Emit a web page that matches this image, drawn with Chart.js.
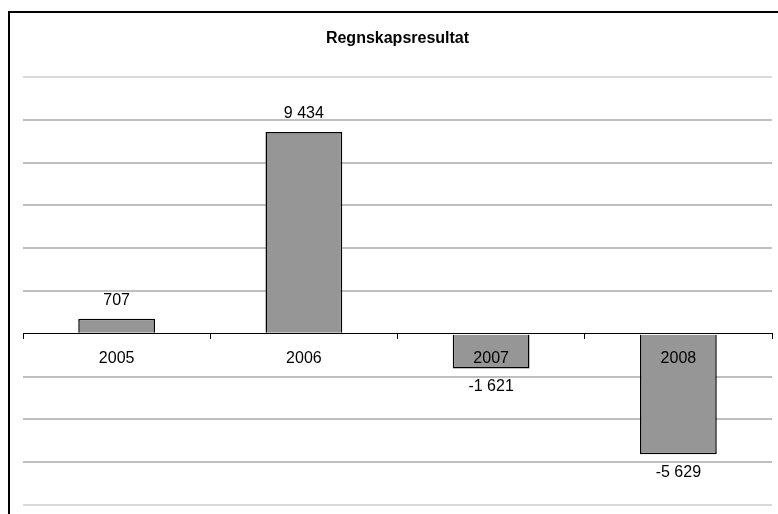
<!DOCTYPE html>
<html>
<head>
<meta charset="utf-8">
<title>Regnskapsresultat</title>
<script src="https://cdn.jsdelivr.net/npm/chart.js@4/dist/chart.umd.min.js"></script>
<style>
  html, body { margin: 0; padding: 0; background: #ffffff; }
  #wrap { position: relative; width: 778px; height: 514px; overflow: hidden; }
  #frame {
    position: absolute; left: 8px; top: 11px; width: 800px; height: 540px;
    border-left: 2px solid #000; border-top: 2px solid #000;
    pointer-events: none;
  }
  canvas { display: block; }
</style>
</head>
<body>
<div id="wrap">
  <canvas id="chart" width="778" height="514"></canvas>
  <div id="frame"></div>
</div>
<script>
// Årsresultat per regnskapsår
const years = ['2005', '2006', '2007', '2008'];
const results = [707, 9434, -1621, -5629];
const axisMin = -8000;
const axisMax = 12000;
const axisStep = 2000;

const FONT = "'Liberation Sans', Arial, sans-serif";

// "9434" -> "9 434", "-1621" -> "-1 621"
function formatNumber(v) {
  const s = Math.abs(v).toString().replace(/\B(?=(\d{3})+(?!\d))/g, ' ');
  return (v < 0 ? '-' : '') + s;
}

// Writes each bar's value just beyond the end of the bar
const valueLabels = {
  id: 'valueLabels',
  afterDatasetsDraw(chart) {
    const ctx = chart.ctx;
    const meta = chart.getDatasetMeta(0);
    const data = chart.data.datasets[0].data;
    ctx.save();
    ctx.font = '16px ' + FONT;
    ctx.fillStyle = '#000';
    ctx.textAlign = 'center';
    ctx.textBaseline = 'middle';
    meta.data.forEach((bar, i) => {
      const v = data[i];
      const y = v >= 0 ? bar.y - 18 : bar.y + 18;
      ctx.fillText(formatNumber(v), bar.x, y);
    });
    ctx.restore();
  }
};

new Chart(document.getElementById('chart'), {
  type: 'bar',
  data: {
    labels: years,
    datasets: [{
      data: results,
      backgroundColor: '#969696',
      borderColor: '#000000',
      borderWidth: 1.5,
      barPercentage: 0.41,
      categoryPercentage: 1
    }]
  },
  options: {
    responsive: false,
    animation: false,
    events: [],
    layout: { padding: { top: 0, left: 23, right: 6, bottom: 9 } },
    plugins: {
      legend: { display: false },
      tooltip: { enabled: false },
      title: {
        display: true,
        text: 'Regnskapsresultat',
        color: '#000',
        font: { family: FONT, size: 16, weight: 'bold' },
        padding: { top: 29, bottom: 28.8 }
      }
    },
    scales: {
      y: {
        min: axisMin,
        max: axisMax,
        ticks: { display: false, stepSize: axisStep },
        border: { display: false },
        grid: {
          drawTicks: false,
          lineWidth: 2,
          color: (c) => {
            const v = c.tick ? c.tick.value : null;
            if (v === 0) return 'rgba(0,0,0,0)';
            if (v === axisMin || v === axisMax) return '#dadada';
            return '#bfbfbf';
          }
        }
      },
      x: {
        position: { y: 0 },
        border: { display: true, color: '#000', width: 1, z: 1 },
        grid: {
          offset: true,
          drawOnChartArea: false,
          drawTicks: true,
          tickLength: 5,
          color: '#000',
          lineWidth: 1,
          z: 1
        },
        ticks: {
          color: '#000',
          padding: 10,
          maxRotation: 0,
          z: 1,
          font: { family: FONT, size: 16 }
        }
      }
    }
  },
  plugins: [valueLabels]
});
</script>
</body>
</html>
